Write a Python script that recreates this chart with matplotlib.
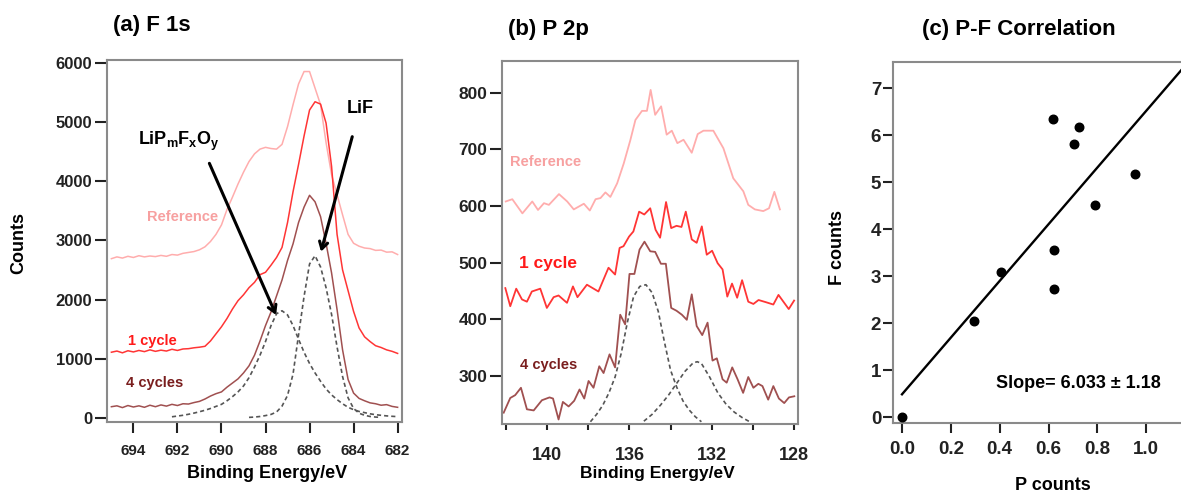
import numpy as np
import matplotlib.pyplot as plt

plt.rcParams['font.family'] = ['Liberation Sans', 'DejaVu Sans']
plt.rcParams['font.weight'] = 'bold'
plt.rcParams['mathtext.fontset'] = 'custom'
plt.rcParams['mathtext.rm'] = 'Liberation Sans:bold'
plt.rcParams['mathtext.it'] = 'Liberation Sans:bold'
plt.rcParams['mathtext.bf'] = 'Liberation Sans:bold'

# ---- (a) F 1s spectra ----
e_f1s = [695.0, 694.75, 694.5, 694.25, 694.0, 693.75, 693.5, 693.25, 693.0,
         692.75, 692.5, 692.25, 692.0, 691.75, 691.5, 691.25, 691.0, 690.75,
         690.5, 690.25, 690.0, 689.75, 689.5, 689.25, 689.0, 688.75, 688.5,
         688.25, 688.0, 687.75, 687.5, 687.25, 687.0, 686.75, 686.5, 686.25,
         686.0, 685.75, 685.5, 685.25, 685.0, 684.75, 684.5, 684.25, 684.0,
         683.75, 683.5, 683.25, 683.0, 682.75, 682.5, 682.25, 682.0]
f1s_ref = [2690, 2720, 2700, 2730, 2710, 2740, 2720, 2735, 2725,
           2745, 2730, 2760, 2750, 2780, 2795, 2810, 2840, 2890,
           2980, 3100, 3260, 3520, 3730, 3950, 4150, 4330, 4460,
           4540, 4570, 4550, 4540, 4620, 4920, 5290, 5640, 5850,
           5850, 5570, 5290, 4650, 4110, 3770, 3430, 3100, 2950,
           2900, 2870, 2860, 2830, 2835, 2800, 2805, 2760]
f1s_1cyc = [1110, 1130, 1100, 1135, 1115, 1140, 1120, 1150, 1125,
            1145, 1130, 1160, 1140, 1165, 1170, 1185, 1195, 1210,
            1300, 1420, 1540, 1680, 1840, 1980, 2080, 2200, 2290,
            2420, 2460, 2580, 2710, 2880, 3300, 3820, 4280, 4760,
            5200, 5340, 5300, 4980, 4250, 3100, 2500, 2150, 1800,
            1520, 1370, 1290, 1220, 1190, 1150, 1125, 1090]
f1s_4cyc = [190, 205, 175, 210, 185, 205, 180, 215, 190,
            220, 200, 230, 210, 240, 235, 260, 280, 320,
            370, 410, 440, 520, 590, 660, 760, 880, 1060,
            1300, 1560, 1790, 2060, 2330, 2660, 2940, 3300, 3560,
            3760, 3650, 3400, 2950, 2450, 1830, 1150, 650, 420,
            330, 290, 255, 240, 215, 225, 195, 180]

e_lipfo = [692.25, 692.0, 691.75, 691.5, 691.25, 691.0, 690.75, 690.5, 690.25,
           690.0, 689.75, 689.5, 689.25, 689.0, 688.75, 688.5, 688.25, 688.0,
           687.75, 687.5, 687.25, 687.0, 686.75, 686.5, 686.25, 686.0, 685.75,
           685.5, 685.25, 685.0, 684.75, 684.5, 684.25, 684.0, 683.75, 683.5,
           683.25, 683.0, 682.75, 682.5, 682.25, 682.0]
fit_lipfo = [20, 32, 45, 62, 82, 105, 130, 160, 195,
             230, 290, 360, 440, 540, 680, 860, 1060, 1290,
             1560, 1760, 1810, 1740, 1560, 1330, 1110, 920, 760,
             620, 490, 390, 310, 240, 180, 140, 110, 90,
             70, 55, 45, 35, 28, 22]
e_lif = [688.75, 688.5, 688.25, 688.0, 687.75, 687.5, 687.25, 687.0, 686.75,
         686.5, 686.25, 686.0, 685.75, 685.5, 685.25, 685.0, 684.75, 684.5,
         684.25, 684.0, 683.75, 683.5, 683.25, 683.0, 682.75]
fit_lif = [10, 15, 25, 40, 60, 100, 200, 380, 740,
           1400, 2050, 2600, 2740, 2550, 2200, 1750, 1200, 700,
           340, 160, 80, 45, 25, 15, 10]

# ---- (b) P 2p spectra ----
e_p_ref = [142.02, 141.7, 141.21, 140.73, 140.45, 140.16, 139.92, 139.43, 139.03,
           138.71, 138.22, 137.93, 137.65, 137.41, 137.17, 136.93, 136.6, 136.28,
           135.96, 135.71, 135.39, 135.15, 134.97, 134.75, 134.46, 134.19, 133.94,
           133.67, 133.37, 132.97, 132.68, 132.4, 131.92, 131.43, 130.95, 130.46,
           130.22, 129.9, 129.49, 129.21, 128.95, 128.68]
p_ref = [608, 612, 587, 608, 593, 605, 602, 621, 608,
         594, 604, 592, 612, 614, 624, 616, 640, 675,
         716, 752, 768, 768, 805, 761, 776, 726, 733,
         711, 717, 694, 727, 733, 733, 702, 649, 626,
         602, 594, 591, 596, 625, 594]
e_p_1cyc = [142.04, 141.8, 141.51, 141.23, 140.99, 140.75, 140.34, 140.02, 139.69,
            139.45, 139.04, 138.75, 138.53, 138.07, 137.51, 137.02, 136.7, 136.48,
            136.29, 136.02, 135.81, 135.53, 135.28, 134.99, 134.73, 134.51, 134.22,
            133.97, 133.71, 133.47, 133.26, 132.97, 132.73, 132.48, 132.24, 131.98,
            131.71, 131.47, 131.24, 131.01, 130.76, 130.52, 130.22, 129.97, 129.72,
            129.35, 129.0, 128.75, 128.25, 127.99]
p_1cyc = [455, 423, 454, 435, 431, 449, 454, 420, 439,
          442, 429, 458, 439, 461, 449, 491, 479, 526,
          529, 546, 555, 590, 585, 596, 558, 544, 607,
          561, 565, 563, 590, 541, 535, 564, 514, 521,
          499, 488, 440, 463, 438, 469, 431, 427, 434,
          430, 426, 443, 418, 433]
e_p_4cyc = [142.12, 141.8, 141.56, 141.28, 140.99, 140.66, 140.26, 139.89, 139.72,
            139.45, 139.24, 138.96, 138.69, 138.43, 138.2, 137.99, 137.75, 137.47,
            137.26, 136.97, 136.7, 136.45, 136.21, 136.0, 135.76, 135.51, 135.27,
            134.99, 134.75, 134.47, 134.23, 133.97, 133.71, 133.45, 133.21, 132.97,
            132.73, 132.46, 132.2, 131.96, 131.75, 131.47, 131.27, 131.0, 130.74,
            130.47, 130.22, 129.97, 129.73, 129.53, 129.25, 129.0, 128.73, 128.47,
            128.24, 127.98]
p_4cyc = [235, 261, 266, 279, 241, 239, 257, 262, 260,
          223, 254, 246, 256, 276, 260, 291, 279, 317,
          305, 338, 315, 408, 391, 480, 480, 523, 537,
          520, 519, 498, 498, 420, 415, 408, 399, 444,
          388, 372, 394, 327, 331, 294, 288, 315, 294,
          270, 298, 279, 286, 282, 258, 282, 260, 252,
          262, 264]
e_pk1 = [137.9, 137.6, 137.3, 137.0, 136.7, 136.4, 136.1, 135.8, 135.5, 135.2,
         134.9, 134.6, 134.3, 134.0, 133.7, 133.4, 133.1, 132.8, 132.5]
fit_pk1 = [219, 232, 248, 270, 298, 340, 395, 440, 458, 461,
           447, 414, 360, 310, 280, 256, 240, 228, 219]
e_pk2 = [135.3, 134.9, 134.5, 134.1, 133.7, 133.3, 132.9, 132.7, 132.5,
         132.1, 131.7, 131.3, 130.9, 130.5, 130.15]
fit_pk2 = [220, 232, 248, 266, 287, 308, 323, 325, 322,
           298, 270, 250, 236, 226, 219]

# ---- (c) P-F correlation ----
p_counts = [0.0, 0.296, 0.406, 0.62, 0.723, 0.702, 0.955, 0.788, 0.624, 0.624]
f_counts = [0.0, 2.04, 3.09, 6.34, 6.18, 5.82, 5.18, 4.52, 3.55, 2.72]
fit_slope = 6.033
fit_intercept = 0.49

c_ref, c_1, c_4 = '#ffadad', '#ff3535', '#a05050'
t_ref, t_1, t_4 = '#f7a0a0', '#ff1a1a', '#7a1e1e'
c_fit = '#555555'
spine_c = '#8a8a8a'


def frame(ax):
    for s in ax.spines.values():
        s.set_color(spine_c)
        s.set_linewidth(1.5)
    ax.tick_params(colors='#222222', width=1.5)


fig = plt.figure(figsize=(11.81, 4.95), dpi=100)
ax1 = fig.add_axes([0.0906, 0.1475, 0.2498, 0.7313])
ax2 = fig.add_axes([0.4251, 0.1434, 0.2506, 0.7333])
ax3 = fig.add_axes([0.7561, 0.1455, 0.2559, 0.7293])

# (a)
ax1.plot(e_f1s, f1s_ref, color=c_ref, lw=1.1)
ax1.plot(e_f1s, f1s_1cyc, color=c_1, lw=1.1)
ax1.plot(e_f1s, f1s_4cyc, color=c_4, lw=1.1)
ax1.plot(e_lipfo, fit_lipfo, color=c_fit, lw=1.2, ls=(0, (2.5, 1.8)))
ax1.plot(e_lif, fit_lif, color=c_fit, lw=1.2, ls=(0, (2.5, 1.8)))
ax1.set_xlim(695.2, 681.8)
ax1.set_ylim(-68, 6045)
ax1.set_xticks([694, 692, 690, 688, 686, 684, 682])
ax1.set_yticks([0, 1000, 2000, 3000, 4000, 5000, 6000])
frame(ax1)
ax1.tick_params(axis='y', length=8.5, pad=2, labelsize=12)
ax1.tick_params(axis='x', length=8, pad=8, labelsize=11)
ax1.set_xlabel('Binding Energy/eV', fontsize=13, fontweight='bold', va='center')
ax1.xaxis.set_label_coords(0.544, -0.141)
ax1.set_ylabel('Counts', fontsize=13, fontweight='bold', va='center')
ax1.yaxis.set_label_coords(-0.298, 0.494)
ax1.text(693.4, 3399, 'Reference', color=t_ref, fontsize=10.5, va='center')
ax1.text(694.23, 1306, '1 cycle', color=t_1, fontsize=10.5, va='center')
ax1.text(694.33, 585, '4 cycles', color=t_4, fontsize=10.5, va='center')
ax1.text(693.77, 4610, r'$LiP_mF_xO_y$', fontsize=13, va='baseline')
ax1.text(684.31, 5143, 'LiF', fontsize=13, va='baseline')
arrow = dict(arrowstyle='->,head_length=0.5,head_width=0.3', lw=2.2,
             color='black', shrinkA=0, shrinkB=0)
ax1.annotate('', xy=(687.52, 1739), xytext=(690.55, 4300), arrowprops=arrow)
ax1.annotate('', xy=(685.48, 2808), xytext=(684.06, 4750), arrowprops=arrow)

# (b)
ax2.plot(e_p_ref, p_ref, color=c_ref, lw=1.3)
ax2.plot(e_p_1cyc, p_1cyc, color=c_1, lw=1.3)
ax2.plot(e_p_4cyc, p_4cyc, color=c_4, lw=1.3)
ax2.plot(e_pk1, fit_pk1, color=c_fit, lw=1.2, ls=(0, (2.5, 1.8)))
ax2.plot(e_pk2, fit_pk2, color=c_fit, lw=1.2, ls=(0, (2.5, 1.8)))
ax2.set_xlim(142.2, 127.8)
ax2.set_ylim(215, 856)
ax2.set_xticks([140, 136, 132, 128])
ax2.set_xticks([142, 138, 134, 130], minor=True)
ax2.set_yticks([300, 400, 500, 600, 700, 800])
frame(ax2)
ax2.tick_params(axis='y', length=8.5, pad=2, labelsize=12.5)
ax2.tick_params(axis='x', which='both', length=4.5, width=1.5, colors='#222222')
ax2.tick_params(axis='x', pad=12, labelsize=13)
ax2.set_xlabel('Binding Energy/eV', fontsize=12.5, fontweight='bold', va='center')
ax2.xaxis.set_label_coords(0.524, -0.135)
ax2.text(141.83, 677, 'Reference', color=t_ref, fontsize=10.5, va='center')
ax2.text(141.39, 499, '1 cycle', color=t_1, fontsize=12.5, va='center')
ax2.text(141.31, 320, '4 cycles', color=t_4, fontsize=10.5, va='center')

# (c)
ax3.scatter(p_counts, f_counts, s=38, color='black', zorder=3)
fit_x = np.array([0.0, 1.3])
ax3.plot(fit_x, fit_intercept + fit_slope * fit_x, color='black', lw=1.7)
ax3.set_xlim(-0.037, 1.2)
ax3.set_ylim(-0.12, 7.56)
ax3.set_xticks([0.0, 0.2, 0.4, 0.6, 0.8, 1.0])
ax3.set_yticks([0, 1, 2, 3, 4, 5, 6, 7])
frame(ax3)
ax3.tick_params(axis='y', length=7, pad=1.5, labelsize=13.5)
ax3.tick_params(axis='x', length=7, pad=6, labelsize=13.5)
ax3.set_xlabel('P counts', fontsize=13, fontweight='bold', va='center')
ax3.xaxis.set_label_coords(0.529, -0.1745)
ax3.set_ylabel('F counts', fontsize=13, fontweight='bold', va='center')
ax3.yaxis.set_label_coords(-0.182, 0.485)
ax3.text(0.385, 0.71, 'Slope= 6.033 \u00b1 1.18', fontsize=13, va='center')

fig.text(0.0957, 0.9475, '(a) F 1s', fontsize=16, fontweight='bold', va='center')
fig.text(0.430, 0.9414, '(b) P 2p', fontsize=16, fontweight='bold', va='center')
fig.text(0.8628, 0.9414, '(c) P-F Correlation', fontsize=16, fontweight='bold',
         va='center', ha='center')

fig.savefig('out.png', dpi=100)
